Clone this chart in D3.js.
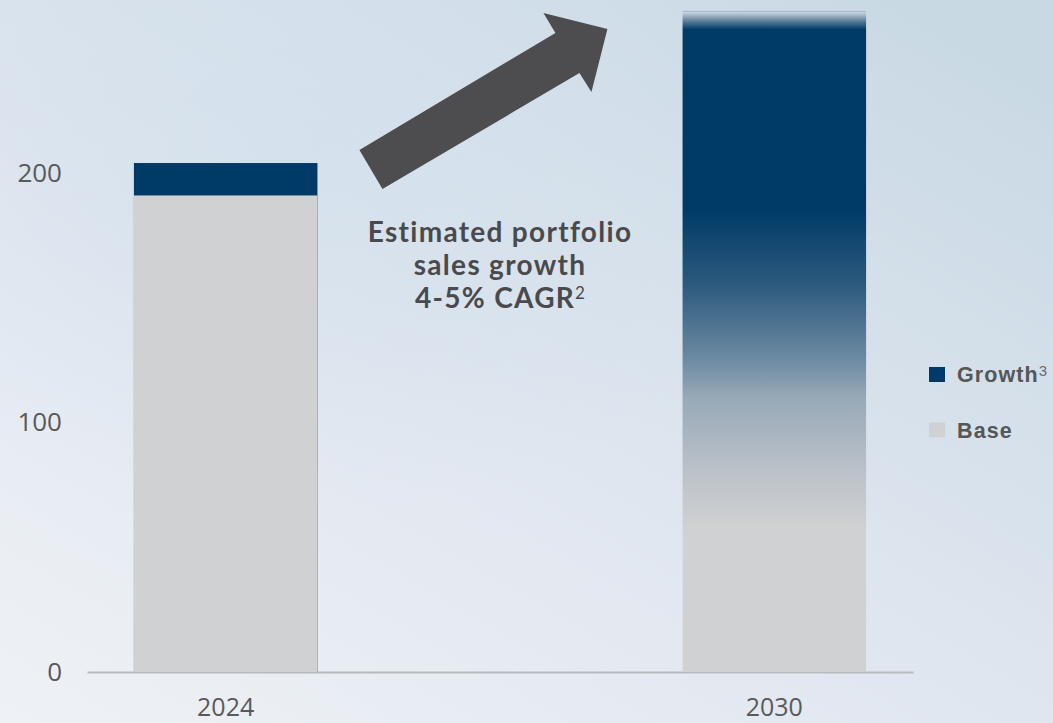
<!DOCTYPE html>
<html>
<head>
<meta charset="utf-8">
<script src="https://cdn.jsdelivr.net/npm/d3@7"></script>
<style>
  html, body { margin: 0; padding: 0; overflow: hidden; }
  body { width: 1053px; height: 723px; }
  .tick text { font-family: "Open Sans", sans-serif; fill: #595959; }
</style>
</head>
<body>
<script>
"use strict";

// Chart data
var years = ["2024", "2030"];
var base = [191, 57];      // solid grey part
var growth = [13, 208];    // navy part on top
var fadeTop = 185;         // 2030: navy is solid above this value, fades down to base
var yTicks = [0, 100, 200];
var legendItems = ["Growth", "Base"];
var legendSup = ["3", ""];
var noteLines = ["Estimated portfolio", "sales growth", "4-5% CAGR"];

var W = 1053, H = 723;
var navy = "#003b68", grey = "#d0d1d3";

var svg = d3.select("body").append("svg").attr("width", W).attr("height", H);
var defs = svg.append("defs");

// Background wash
var bg = defs.append("linearGradient").attr("id", "bg")
  .attr("x1", 0).attr("y1", 1).attr("x2", 0.85).attr("y2", 0);
bg.append("stop").attr("offset", 0).attr("stop-color", "#eef2f6");
bg.append("stop").attr("offset", 0.45).attr("stop-color", "#e1e7f0");
bg.append("stop").attr("offset", 1).attr("stop-color", "#c9d9e4");
svg.append("rect").attr("width", W).attr("height", H).attr("fill", "url(#bg)");
var glow = defs.append("radialGradient").attr("id", "glow").attr("cx", 0.3).attr("cy", 0.2).attr("r", 0.5);
glow.append("stop").attr("offset", 0).attr("stop-color", "#d2e0ec").attr("stop-opacity", 0.7);
glow.append("stop").attr("offset", 1).attr("stop-color", "#d2e0ec").attr("stop-opacity", 0);
svg.append("rect").attr("width", W).attr("height", H).attr("fill", "url(#glow)");

// Scales
var x = d3.scaleBand().domain(years).range([87, 913]).paddingInner(0.6655).paddingOuter(0.0855);
var y = d3.scaleLinear().domain([0, 200]).range([672, 173]);

// Axes
var yAxis = d3.axisLeft(y).tickValues(yTicks).tickSize(0).tickPadding(0);
svg.append("g").attr("transform", "translate(62,0)").call(yAxis)
  .call(function (g) { g.select(".domain").remove(); })
  .selectAll("text").style("font-size", "26px");

var xAxis = d3.axisBottom(x).tickSize(0).tickPadding(26);
svg.append("g").attr("transform", "translate(0," + y(0) + ")").call(xAxis)
  .call(function (g) { g.select(".domain").attr("stroke", "#b7bbbf").attr("stroke-width", 2); })
  .selectAll("text").style("font-size", "25px");

// Gradient for the 2030 bar
var total30 = base[1] + growth[1];
var fade = defs.append("linearGradient").attr("id", "fade")
  .attr("gradientUnits", "userSpaceOnUse")
  .attr("x1", 0).attr("x2", 0).attr("y1", y(total30)).attr("y2", y(0));
function off(v) { return (y(v) - y(total30)) / (y(0) - y(total30)); }
[
  [total30, "#a9bccf"],
  [total30 - 0.5, "#a9bccf"],
  [total30 - 0.6, "#c5d3df"],
  [total30 - 1.6, "#a9bccd"],
  [total30 - 4, "#5f809b"],
  [total30 - 7.5, navy],
  [fadeTop, navy],
  [fadeTop - 30, "#2d5a7e"],
  [fadeTop - 60, "#6d8ba3"],
  [fadeTop - 75, "#97a9b8"],
  [fadeTop - 105, "#bcc2c9"],
  [base[1], grey],
  [0, grey]
].forEach(function (s) {
  fade.append("stop").attr("offset", off(s[0])).attr("stop-color", s[1]);
});

// Bars
var stacks = years.map(function (yr, i) {
  return { year: yr, base: base[i], growth: growth[i], fade: yr === "2030" };
});
var bars = svg.append("g").selectAll("g").data(stacks).enter().append("g");
bars.append("rect")
  .attr("x", function (d) { return x(d.year); })
  .attr("width", x.bandwidth())
  .attr("y", function (d) { return y(d.base + d.growth); })
  .attr("height", function (d) { return y(0) - y(d.base + d.growth); })
  .attr("fill", function (d) { return d.fade ? "url(#fade)" : navy; });
bars.filter(function (d) { return !d.fade; }).append("rect")
  .attr("x", function (d) { return x(d.year); })
  .attr("width", x.bandwidth())
  .attr("y", function (d) { return y(d.base); })
  .attr("height", function (d) { return y(0) - y(d.base); })
  .attr("fill", grey);

// Arrow between the bars
var ax = x("2024") + x.bandwidth(), ay = y(200);
var arrowPts = [[42, -23], [238, -140], [226, -160], [290, -144], [274, -81], [262, -100], [65, 16]];
svg.append("polygon")
  .attr("points", arrowPts.map(function (p) { return (ax + p[0]) + "," + (ay + p[1]); }).join(" "))
  .attr("fill", "#4d4c4e");

// Annotation, one text per line
var midX = (x("2024") + x.bandwidth() + x("2030")) / 2;
noteLines.forEach(function (t, i) {
  var line = svg.append("text").attr("text-anchor", "middle")
    .attr("x", midX).attr("y", 242 + i * 33)
    .style("font-family", "Lato, 'Open Sans', sans-serif").style("font-weight", "bold")
    .style("font-size", "28px").style("letter-spacing", "1.3px").attr("fill", "#4a4a4c");
  line.append("tspan").text(t);
  if (i === noteLines.length - 1) {
    line.append("tspan").attr("dy", -9).style("font-size", "17px").style("font-weight", "normal")
      .style("letter-spacing", "0px").text("2");
  }
});

// Legend
var legend = svg.append("g").attr("transform", "translate(929,367)");
var li = legend.selectAll("g").data(legendItems).enter().append("g")
  .attr("transform", function (d, i) { return "translate(0," + i * 55.5 + ")"; });
li.append("rect").attr("width", 16).attr("height", 15)
  .attr("fill", function (d, i) { return i === 0 ? navy : grey; });
var lt = li.append("text").attr("x", 28).attr("y", 15)
  .style("font-family", "'Liberation Sans', Arial, sans-serif").style("font-weight", "bold")
  .style("font-size", "21.5px").style("letter-spacing", "1.1px").attr("fill", "#555657");
lt.append("tspan").text(function (d) { return d; });
lt.append("tspan").attr("dy", -6).style("font-size", "15px").style("font-weight", "normal")
  .style("letter-spacing", "0px").attr("fill", "#6a6b6c").text(function (d, i) { return legendSup[i]; });
</script>
</body>
</html>
